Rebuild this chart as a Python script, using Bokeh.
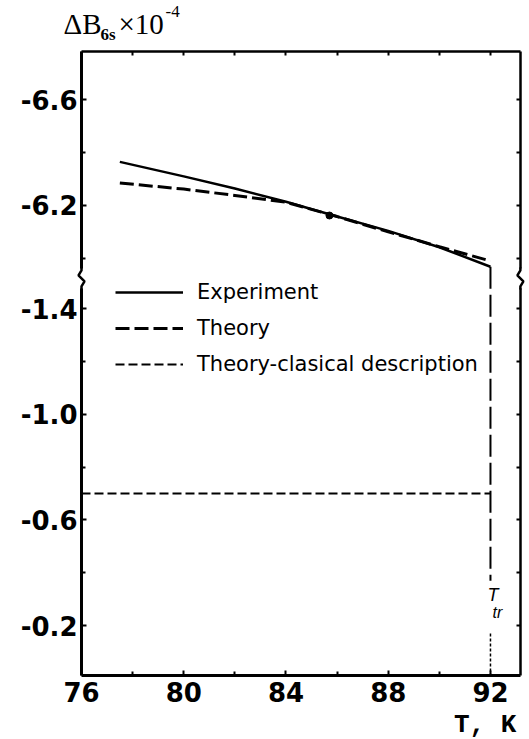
from bokeh.plotting import figure
from bokeh.models import (Range1d, LinearAxis, FixedTicker, Legend, LegendItem,
                          Label, PolyAnnotation)
from bokeh.embed import file_html
from bokeh.resources import INLINE

# ---------------- data ----------------
T_exp = [77.5, 80, 82, 84, 86, 88, 90, 92]
B_exp = [-6.365, -6.31, -6.264, -6.214, -6.158, -6.104, -6.042, -5.968]

T_theory = [77.5, 80, 82, 84, 86, 88, 90, 92]
B_theory = [-6.285, -6.262, -6.238, -6.212, -6.158, -6.100, -6.044, -5.990]

T_classic = [76, 92]
B_classic = [-0.70, -0.70]

T_point = [85.7]
B_point = [-6.162]

T_tr = 92
T_tr_gap = [-0.37, -0.17]     # where the T_tr label interrupts the vertical line

x_major = [76, 80, 84, 88, 92]
x_minor = [78, 82, 86, 90]
y_major_upper = [-6.6, -6.2]
y_minor_upper = [-6.4, -6.0]
y_major_lower = [-1.4, -1.0, -0.6, -0.2]
y_minor_lower = [-1.2, -0.8, -0.4]

# broken axis: the upper segment is shifted down onto the same scale
Y_SHIFT = 4.41
Y_BREAK = -1.514
X_START, X_END = 76.0, 93.17          # plot box
Y_BOTTOM, Y_TOP = -0.0114, -2.3727    # plot box
# canvas extent in data units (the frame fills the whole canvas)
XR = (72.831, 93.527)
YR = (0.2313, -2.5658)

PX_PER_X = 25.56
PX_PER_Y = 264.2


def u(v):
    return round(v + Y_SHIFT, 4) if v < -3 else round(v, 4)


ticks_major = [u(v) for v in y_major_upper + y_major_lower]
ticks_minor = [u(v) for v in y_minor_upper + y_minor_lower]
overrides = {u(v): ("%.1f" % v) for v in y_major_upper + y_major_lower}

p = figure(width=529, height=739, output_backend="svg", toolbar_location=None,
           x_range=Range1d(*XR), y_range=Range1d(*YR),
           x_axis_type=None, y_axis_type=None,
           min_border_left=0, min_border_right=0, min_border_top=0,
           min_border_bottom=0)
p.title.visible = False
p.xgrid.visible = False
p.ygrid.visible = False
p.outline_line_color = None
p.background_fill_color = "white"
p.border_fill_color = "white"

TICK_FONT = "DejaVu Sans"


def style_ticks(ax, major_in, minor_in, lw):
    ax.axis_line_width = lw
    ax.axis_line_color = "black"
    ax.major_tick_in = major_in
    ax.major_tick_out = 0
    ax.minor_tick_in = minor_in
    ax.minor_tick_out = 0
    ax.major_tick_line_width = 2
    ax.minor_tick_line_width = 2


# bottom axis
xb = LinearAxis(ticker=FixedTicker(ticks=x_major, minor_ticks=x_minor),
                fixed_location=Y_BOTTOM, bounds=(X_START, X_END))
style_ticks(xb, 5, 4, 3)
xb.major_label_text_font = TICK_FONT
xb.major_label_text_font_style = "bold"
xb.major_label_text_font_size = "26px"
xb.major_label_text_color = "black"
xb.major_label_standoff = 7
p.add_layout(xb, "below")

# top axis (ticks only)
top_ticks = sorted(x_major + x_minor)
xt = LinearAxis(ticker=FixedTicker(ticks=top_ticks, minor_ticks=[]),
                fixed_location=Y_TOP, bounds=(X_START, X_END),
                major_label_overrides={t: "" for t in top_ticks})
style_ticks(xt, 4, 0, 2.5)
p.add_layout(xt, "above")

# left axis
yl = LinearAxis(ticker=FixedTicker(ticks=ticks_major, minor_ticks=ticks_minor),
                major_label_overrides=overrides,
                fixed_location=X_START, bounds=(Y_TOP, Y_BOTTOM))
style_ticks(yl, 5, 4, 3)
yl.major_label_text_font = TICK_FONT
yl.major_label_text_font_style = "bold"
yl.major_label_text_font_size = "26px"
yl.major_label_text_color = "black"
yl.major_label_standoff = 4
p.add_layout(yl, "left")

# right axis (ticks only)
right_ticks = sorted(ticks_major + ticks_minor)
yr = LinearAxis(ticker=FixedTicker(ticks=right_ticks, minor_ticks=[]),
                fixed_location=X_END, bounds=(Y_TOP, Y_BOTTOM),
                major_label_overrides={t: "" for t in right_ticks})
style_ticks(yr, 4, 0, 2.5)
p.add_layout(yr, "right")

# ---------------- data lines ----------------
r_exp = p.line(T_exp, [u(v) for v in B_exp],
               line_color="black", line_width=2.5)
r_th = p.line(T_theory, [u(v) for v in B_theory],
              line_color="black", line_width=3, line_dash="14 5")
r_cl = p.line(T_classic, [u(v) for v in B_classic],
              line_color="black", line_width=2, line_dash="9 4")
p.scatter(T_point, [u(v) for v in B_point], size=7, color="black")

# vertical line at T_tr
p.line([T_tr, T_tr], [u(B_exp[-1]), T_tr_gap[0]],
       line_color="black", line_width=2, line_dash="22 6")
p.line([T_tr, T_tr], [T_tr_gap[1], Y_BOTTOM],
       line_color="black", line_width=1.5, line_dash="3 2")

# ---------------- axis break marks ----------------
dx = 1.0 / PX_PER_X
dy = 1.0 / PX_PER_Y
for x0 in (X_START, X_END):
    p.add_layout(PolyAnnotation(
        xs=[x0 - 6 * dx, x0 + 4 * dx, x0 + 4 * dx, x0 - 6 * dx],
        ys=[Y_BREAK - 10 * dy, Y_BREAK - 10 * dy, Y_BREAK + 10 * dy, Y_BREAK + 10 * dy],
        fill_color="white", fill_alpha=1.0, line_color=None))
    zx = [x0, x0, x0 - 3 * dx, x0 + 3 * dx, x0, x0]
    zy = [Y_BREAK - 11 * dy, Y_BREAK - 8 * dy, Y_BREAK - 3 * dy,
          Y_BREAK + 3 * dy, Y_BREAK + 8 * dy, Y_BREAK + 11 * dy]
    p.add_layout(PolyAnnotation(
        xs=zx + zx[-2:0:-1], ys=zy + zy[-2:0:-1],
        fill_alpha=0.0, line_color="black", line_alpha=1.0, line_width=2.5))

# ---------------- legend ----------------
legend = Legend(items=[LegendItem(label="Experiment", renderers=[r_exp]),
                       LegendItem(label="Theory", renderers=[r_th]),
                       LegendItem(label="Theory-clasical description", renderers=[r_cl])],
                location=(115, 360), glyph_width=68, glyph_height=30, label_height=30,
                spacing=6, label_standoff=14, padding=0, margin=0,
                border_line_color=None, background_fill_alpha=0.0,
                label_text_font="DejaVu Sans", label_text_font_size="21px",
                label_text_color="black")
p.add_layout(legend)

# ---------------- texts ----------------
serif = "Liberation Serif"
p.add_layout(Label(x=X_START, y=Y_TOP, x_offset=-18, y_offset=28, text="ΔB",
                   text_font=serif, text_font_size="29px", text_color="black",
                   text_baseline="alphabetic"))
p.add_layout(Label(x=X_START, y=Y_TOP, x_offset=19, y_offset=17, text="6s",
                   text_font=serif, text_font_style="bold", text_font_size="17px",
                   text_color="black", text_baseline="alphabetic"))
p.add_layout(Label(x=X_START, y=Y_TOP, x_offset=37, y_offset=28, text="×10",
                   text_font=serif, text_font_size="29px", text_color="black",
                   text_baseline="alphabetic"))
p.add_layout(Label(x=X_START, y=Y_TOP, x_offset=84, y_offset=40, text="-4",
                   text_font=serif, text_font_size="17px", text_color="black",
                   text_baseline="alphabetic"))

p.add_layout(Label(x=X_END, y=Y_BOTTOM, x_offset=-4, y_offset=-50, text="T, K",
                   text_align="right", text_font="Liberation Mono",
                   text_font_style="bold", text_font_size="26px",
                   text_color="black", text_baseline="alphabetic"))

p.add_layout(Label(x=T_tr, y=-0.283, x_offset=-3, y_offset=9, text="T",
                   text_font="Liberation Sans", text_font_style="italic",
                   text_font_size="18px", text_color="black",
                   text_baseline="alphabetic"))
p.add_layout(Label(x=T_tr, y=-0.283, x_offset=2, y_offset=-9, text="tr",
                   text_font="Liberation Sans", text_font_style="italic",
                   text_font_size="16px", text_color="black",
                   text_baseline="alphabetic"))

open("out.html", "w").write(file_html(p, INLINE))
